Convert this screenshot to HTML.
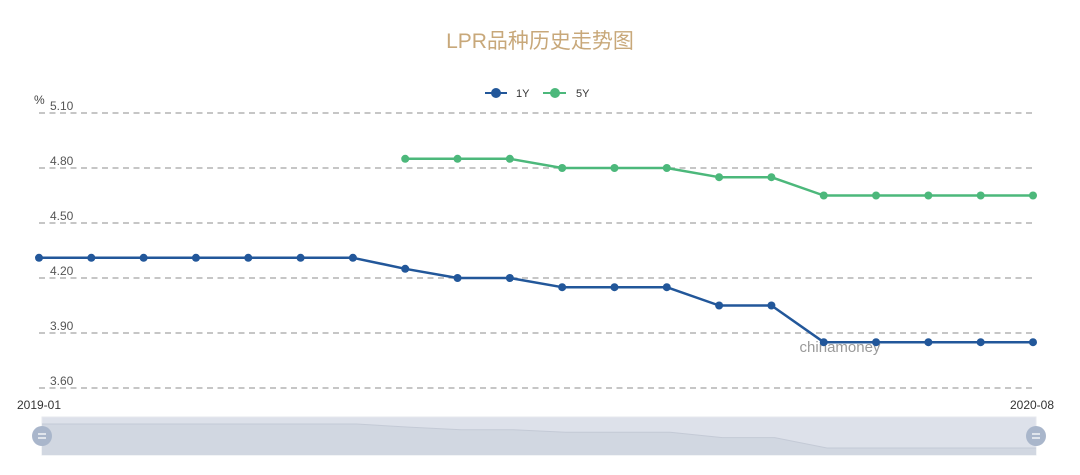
<!DOCTYPE html>
<html><head><meta charset="utf-8"><style>
html,body{margin:0;padding:0;background:#fff;}
svg{display:block;}
text{font-family:"Liberation Sans","Noto Sans CJK SC",sans-serif;}
</style></head><body>
<svg width="1080" height="475" viewBox="0 0 1080 475" xmlns="http://www.w3.org/2000/svg">
<rect width="1080" height="475" fill="#fff"/>
<text x="540" y="48" text-anchor="middle" font-size="21" fill="#c8a87a">LPR品种历史走势图</text>
<!-- legend -->
<line x1="485" y1="93" x2="507" y2="93" stroke="#22579a" stroke-width="2"/>
<circle cx="496" cy="93" r="5" fill="#22579a"/>
<text x="516" y="97" font-size="11" fill="#333">1Y</text>
<line x1="543" y1="93" x2="566" y2="93" stroke="#4cb87b" stroke-width="2"/>
<circle cx="555" cy="93" r="5" fill="#4cb87b"/>
<text x="576" y="97" font-size="11" fill="#333">5Y</text>
<!-- y axis -->
<text x="34" y="104" font-size="12" fill="#444">%</text>
<g stroke="#b4b4b4" stroke-width="1.5" stroke-dasharray="6,4.5">
<line x1="39" y1="113" x2="1033" y2="113"/>
<line x1="39" y1="168" x2="1033" y2="168"/>
<line x1="39" y1="223" x2="1033" y2="223"/>
<line x1="39" y1="278" x2="1033" y2="278"/>
<line x1="39" y1="333" x2="1033" y2="333"/>
<line x1="39" y1="388" x2="1033" y2="388"/>
</g>
<g font-size="12" fill="#555">
<text x="50" y="110">5.10</text>
<text x="50" y="165">4.80</text>
<text x="50" y="220">4.50</text>
<text x="50" y="275">4.20</text>
<text x="50" y="330">3.90</text>
<text x="50" y="385">3.60</text>
</g>
<g font-size="12" fill="#333" text-anchor="middle">
<text x="39" y="409">2019-01</text>
<text x="1032" y="409">2020-08</text>
</g>
<text x="840" y="352" text-anchor="middle" font-size="15" fill="#9a9a9a">chinamoney</text>
<!-- 1Y -->
<polyline fill="none" stroke="#22579a" stroke-width="2.5" stroke-linejoin="round" points="39,257.8 91.32,257.8 143.63,257.8 195.95,257.8 248.26,257.8 300.58,257.8 352.89,257.8 405.21,268.8 457.53,278 509.84,278 562.16,287.2 614.47,287.2 666.79,287.2 719.11,305.5 771.42,305.5 823.74,342.2 876.05,342.2 928.37,342.2 980.68,342.2 1033,342.2"/>
<g fill="#22579a">
<circle cx="39" cy="257.8" r="4"/><circle cx="91.32" cy="257.8" r="4"/><circle cx="143.63" cy="257.8" r="4"/><circle cx="195.95" cy="257.8" r="4"/><circle cx="248.26" cy="257.8" r="4"/><circle cx="300.58" cy="257.8" r="4"/><circle cx="352.89" cy="257.8" r="4"/><circle cx="405.21" cy="268.8" r="4"/><circle cx="457.53" cy="278" r="4"/><circle cx="509.84" cy="278" r="4"/><circle cx="562.16" cy="287.2" r="4"/><circle cx="614.47" cy="287.2" r="4"/><circle cx="666.79" cy="287.2" r="4"/><circle cx="719.11" cy="305.5" r="4"/><circle cx="771.42" cy="305.5" r="4"/><circle cx="823.74" cy="342.2" r="4"/><circle cx="876.05" cy="342.2" r="4"/><circle cx="928.37" cy="342.2" r="4"/><circle cx="980.68" cy="342.2" r="4"/><circle cx="1033" cy="342.2" r="4"/>
</g>
<!-- 5Y -->
<polyline fill="none" stroke="#4cb87b" stroke-width="2.5" stroke-linejoin="round" points="405.21,158.8 457.53,158.8 509.84,158.8 562.16,168 614.47,168 666.79,168 719.11,177.2 771.42,177.2 823.74,195.5 876.05,195.5 928.37,195.5 980.68,195.5 1033,195.5"/>
<g fill="#4cb87b">
<circle cx="405.21" cy="158.8" r="4"/><circle cx="457.53" cy="158.8" r="4"/><circle cx="509.84" cy="158.8" r="4"/><circle cx="562.16" cy="168" r="4"/><circle cx="614.47" cy="168" r="4"/><circle cx="666.79" cy="168" r="4"/><circle cx="719.11" cy="177.2" r="4"/><circle cx="771.42" cy="177.2" r="4"/><circle cx="823.74" cy="195.5" r="4"/><circle cx="876.05" cy="195.5" r="4"/><circle cx="928.37" cy="195.5" r="4"/><circle cx="980.68" cy="195.5" r="4"/><circle cx="1033" cy="195.5" r="4"/>
</g>
<!-- data zoom -->
<rect x="42" y="417" width="994" height="38" fill="#dde1ea" stroke="#e6e8ee" stroke-width="1"/>
<polygon fill="#d1d7e1" points="42,424 356.6,424 408.8,427.1 461.1,429.7 513.3,429.7 565.6,432.3 617.9,432.3 670.2,432.3 722.4,437.6 774.7,437.6 827,448 1036,448 1036,455 42,455"/>
<polyline fill="none" stroke="#c4cad6" stroke-width="1" points="42,424 356.6,424 408.8,427.1 461.1,429.7 513.3,429.7 565.6,432.3 617.9,432.3 670.2,432.3 722.4,437.6 774.7,437.6 827,448 1036,448"/>
<g>
<circle cx="42" cy="436" r="10" fill="#a9b6cb"/>
<line x1="38" y1="434" x2="46" y2="434" stroke="#fff" stroke-width="1.3"/>
<line x1="38" y1="438" x2="46" y2="438" stroke="#fff" stroke-width="1.3"/>
<circle cx="1036" cy="436" r="10" fill="#a9b6cb"/>
<line x1="1032" y1="434" x2="1040" y2="434" stroke="#fff" stroke-width="1.3"/>
<line x1="1032" y1="438" x2="1040" y2="438" stroke="#fff" stroke-width="1.3"/>
</g>
</svg>
</body></html>
